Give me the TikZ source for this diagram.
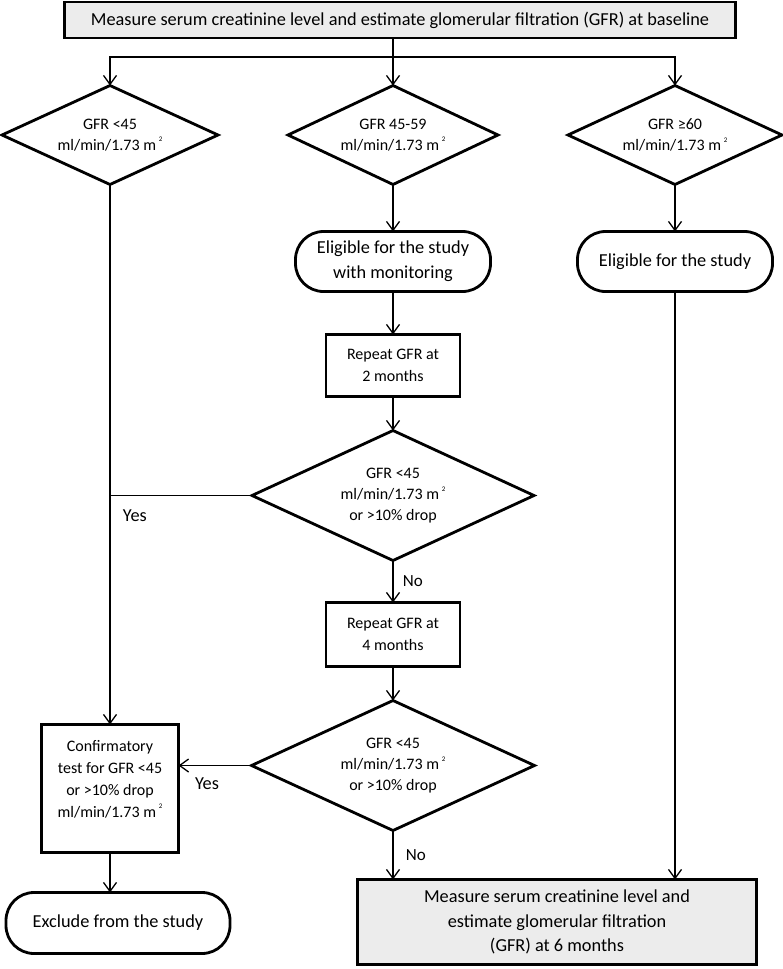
\documentclass[tikz,border=0pt]{standalone}
\usepackage{fontspec}
\setmainfont{Carlito}
\usepackage{tikz}
\usetikzlibrary{arrows.meta,positioning,shapes.geometric}
\definecolor{flowgray}{RGB}{236,236,236}
\newcommand{\msq}{\,\raisebox{1.1ex}{\fontsize{7bp}{7bp}\selectfont 2}}

\begin{document}
\begin{tikzpicture}[
    every node/.style={font=\fontsize{18.3bp}{20bp}\selectfont},
    box/.style={draw, line width=2.8bp, outer sep=0pt, align=center, minimum width=134bp, minimum height=62bp, inner sep=2bp, font=\fontsize{16bp}{22bp}\selectfont},
    headbox/.style={box, fill=flowgray, font=\fontsize{18.3bp}{24.5bp}\selectfont},
    pill/.style={draw, line width=2.8bp, outer sep=0pt, rounded corners=28bp, align=center, minimum width=195bp, minimum height=60bp, font=\fontsize{18.3bp}{25bp}\selectfont},
    decision/.style={draw, diamond, line width=2.8bp, outer sep=0pt, align=center, inner sep=0pt, aspect=2.2, minimum width=216bp, minimum height=99bp, font=\fontsize{16bp}{21bp}\selectfont},
    arrow/.style={-{Straight Barb[length=9bp,width=13bp]}, line width=1.3bp},
    link/.style={line width=1.3bp}
  ]
    \useasboundingbox (0,0) rectangle (783bp,-969bp);

    \node[headbox, minimum width=671bp, minimum height=36bp] (top) at (400bp,-20bp) {Measure serum creatinine level and estimate glomerular filtration (GFR) at baseline};
    \node[decision, minimum width=210bp] (mid) at (393bp,-135bp) {GFR 45-59\\ml/min/1.73 m\msq};
    \node[decision, left=70bp of mid] (low) {GFR <45\\ml/min/1.73 m\msq};
    \node[decision, minimum width=214bp, right=70bp of mid] (high) {GFR ≥60\\ml/min/1.73 m\msq};
    \node[pill, below=47bp of mid] (watch) {Eligible for the study\\with monitoring};
    \node[pill, below=47bp of high] (elig) {Eligible for the study};
    \node[box, below=43bp of watch] (rep2) {Repeat GFR at\\2 months};
    \node[decision, minimum width=282bp, minimum height=130bp, below=34bp of rep2] (chk2) {GFR <45\\ml/min/1.73 m\msq\\or >10\% drop};
    \node[box, minimum height=64bp, below=42bp of chk2] (rep4) {Repeat GFR at\\4 months};
    \node[decision, minimum width=283bp, minimum height=130bp, below=34bp of rep4] (chk4) {GFR <45\\ml/min/1.73 m\msq\\or >10\% drop};
    \node[box, minimum width=137bp, minimum height=128bp, text depth=20bp, below=540bp of low] (conf) {Confirmatory\\test for GFR <45\\or >10\% drop\\ml/min/1.73 m\msq};
    \node[pill, minimum width=224bp, minimum height=61bp, below=40bp of conf, xshift=8bp] (excl) {Exclude from the study};
    \node[headbox, minimum width=399bp, minimum height=85bp, below=49bp of chk4, xshift=164bp] (final) {Measure serum creatinine level and\\estimate glomerular filtration\\(GFR) at 6 months};

    \draw[link] (top.south -| mid.north) -- ++(0,-19bp) coordinate (split);
    \draw[arrow] (split) -- (mid.north);
    \draw[arrow] (split) -| (low.north);
    \draw[arrow] (split) -| (high.north);
    \draw[arrow] (mid) -- (watch);
    \draw[arrow] (watch) -- (rep2);
    \draw[arrow] (rep2) -- (chk2);
    \draw[arrow] (chk2) -- node[right=6bp, font=\fontsize{17bp}{20bp}\selectfont] {No} (rep4);
    \draw[arrow] (rep4) -- (chk4);
    \draw[arrow] (chk4) -- node[right=9bp, font=\fontsize{17bp}{20bp}\selectfont] {No} (chk4.south |- final.north);
    \draw[arrow] (high) -- (elig);
    \draw[arrow] (elig) -- (elig.south |- final.north);
    \draw[arrow] (low) -- (conf);
    \draw[link] (chk2.west) -- node[pos=1, anchor=north west, xshift=9bp, yshift=-10bp] {Yes} (chk2.west -| low.south);
    \draw[arrow] (chk4.west) -- node[pos=0.61, below=8bp] {Yes} (chk4.west -| conf.east);
    \draw[arrow] (conf) -- (conf.south |- excl.north);
  \end{tikzpicture}
\end{document}
